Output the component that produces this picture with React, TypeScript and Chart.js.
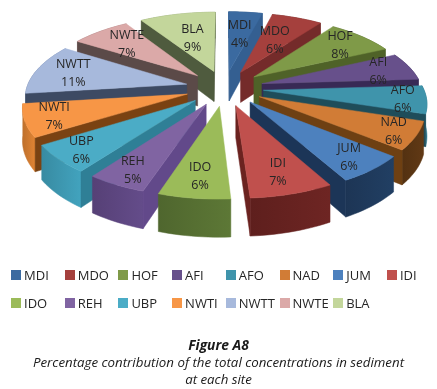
import React, { useEffect, useRef } from "react";
import { Chart, registerables } from "chart.js";

Chart.register(...registerables);

const siteLabels = ["MDI", "MDO", "HOF", "AFI", "AFO", "NAD", "JUM", "IDI", "IDO", "REH", "UBP", "NWTI", "NWTT", "NWTE", "BLA"];
const sitePercent = [4, 6, 8, 6, 6, 6, 6, 7, 6, 5, 6, 7, 11, 7, 9];

const topColors = ["#3b6aa0", "#a5403d", "#7f9a48", "#67508b", "#3f94ab", "#d17c36", "#4d81be", "#c0504d", "#9bbb59", "#8064a2", "#4bacc6", "#f79646", "#a7b9dc", "#dba9a8", "#c3d69b"];
const cutColors = ["#345f91", "#742b2a", "#4f6228", "#382a55", "#1f4d5a", "#6e4013", "#1c3557", "#6b2320", "#5a7334", "#62498a", "#2f7f96", "#7a4212", "#3d4a63", "#5b4a48", "#4f5b3e"];
const wallColors = ["#2c5080", "#6b2422", "#4f6228", "#382a55", "#2a6d80", "#5a3513", "#1f3a5c", "#662220", "#566f32", "#5d4680", "#3d97b0", "#cf7a30", "#6f82a8", "#9a6f6e", "#8b9c6c"];
const labelReach = [0.85, 0.82, 1.03, 1.03, 1.1, 1.11, 1.07, 1.02, 1.03, 1.08, 1.09, 1.07, 1.0, 0.95, 0.8];

const FONT = '"Open Sans", "Noto Sans", sans-serif';
const PERSPECTIVE = 0.15;
const TILT = 0.455;
const DEPTH = 31;

function shade(hex: string, f: number) {
  const n = parseInt(hex.slice(1), 16);
  const c = [(n >> 16) & 255, (n >> 8) & 255, n & 255].map((x) => Math.min(255, Math.round(x * f)));
  return `rgb(${c[0]},${c[1]},${c[2]})`;
}

const pie3d = {
  id: "pie3d",
  beforeDatasetsDraw(chart: any) {
    const ctx = chart.ctx;
    const arcs = chart.getDatasetMeta(0).data;
    const project = (arc: any, u: number, v: number, z: number) => {
      const s = 1 / (1 - PERSPECTIVE * v);
      return [arc.x + arc.outerRadius * u * s, arc.y + arc.outerRadius * TILT * v * s + z * s];
    };
    const poly = (pts: number[][], fill: any) => {
      ctx.beginPath();
      pts.forEach((p, i) => (i ? ctx.lineTo(p[0], p[1]) : ctx.moveTo(p[0], p[1])));
      ctx.closePath();
      ctx.fillStyle = fill;
      ctx.strokeStyle = fill;
      ctx.lineWidth = 0.5;
      ctx.fill();
      ctx.stroke();
    };
    const slices = arcs.map((arc: any, i: number) => {
      const a0 = arc.startAngle + Math.PI / 2;
      const a1 = arc.endAngle + Math.PI / 2;
      const mid = (a0 + a1) / 2;
      const e = arc.options.offset / arc.outerRadius;
      return { arc, i, a0, a1, mid, ox: e * Math.sin(mid), oy: -e * Math.cos(mid) };
    });
    slices.sort((p: any, q: any) => p.oy - q.oy);
    slices.forEach((sl: any) => {
      const { arc, i, a0, a1, ox, oy } = sl;
      const edge = (t: number) => [ox + Math.sin(t), oy - Math.cos(t)];
      const steps = Math.max(6, Math.ceil((a1 - a0) / 0.03));
      const rim: number[][] = [];
      for (let k = 0; k <= steps; k++) rim.push(edge(a0 + ((a1 - a0) * k) / steps));

      const rimTop = rim.map((p) => project(arc, p[0], p[1], 0));
      const rimBottom = rim.map((p) => project(arc, p[0], p[1], DEPTH));
      const xs = rimTop.map((p) => p[0]);
      const grad = ctx.createLinearGradient(Math.min(...xs), 0, Math.max(...xs), 0);
      grad.addColorStop(0, shade(wallColors[i], 0.92));
      grad.addColorStop(1, shade(wallColors[i], 1.08));
      poly([...rimTop, ...rimBottom.slice().reverse()], grad);

      const apexTop = project(arc, ox, oy, 0);
      const apexBottom = project(arc, ox, oy, DEPTH);
      const first = rim[0];
      const last = rim[rim.length - 1];
      const firstTop = rimTop[0];
      const lastTop = rimTop[rimTop.length - 1];
      if (firstTop[0] < apexTop[0]) poly([apexTop, firstTop, project(arc, first[0], first[1], DEPTH), apexBottom], cutColors[i]);
      if (lastTop[0] > apexTop[0]) poly([apexTop, lastTop, project(arc, last[0], last[1], DEPTH), apexBottom], cutColors[i]);

      poly([apexTop, ...rimTop], topColors[i]);
    });
    ctx.save();
    ctx.font = `12.5px ${FONT}`;
    ctx.fillStyle = "#262626";
    ctx.textAlign = "center";
    ctx.textBaseline = "middle";
    slices.forEach((sl: any) => {
      const { arc, i, mid } = sl;
      const r = labelReach[i];
      const p = project(arc, r * Math.sin(mid), -r * Math.cos(mid), 0);
      ctx.fillText(siteLabels[i], p[0], p[1] - 8);
      ctx.fillText(`${sitePercent[i]}%`, p[0], p[1] + 10);
    });
    ctx.restore();
    return false;
  },
};

export default function App() {
  const ref = useRef<HTMLCanvasElement>(null);
  useEffect(() => {
    const chart = new Chart(ref.current as HTMLCanvasElement, {
      type: "pie",
      data: {
        labels: siteLabels,
        datasets: [{ data: sitePercent, backgroundColor: topColors, borderWidth: 0, offset: 39, radius: 160 } as any],
      },
      options: {
        animation: false,
        responsive: false,
        layout: { padding: { left: 12, right: 0, top: 0, bottom: 213 } },
        plugins: { legend: { display: false }, tooltip: { enabled: false } },
      },
      plugins: [pie3d as any],
    });
    return () => chart.destroy();
  }, []);

  return (
    <div style={{ position: "absolute", left: 0, top: 0, width: 437, height: 389, background: "#fff", overflow: "hidden", fontFamily: FONT, color: "#262626" }}>
      <canvas ref={ref} width={437} height={389} style={{ position: "absolute", left: 0, top: 0, filter: "blur(0.5px)" }} />
      {siteLabels.map((s, i) => {
        const col = i % 8;
        const row = Math.floor(i / 8);
        return (
          <div key={s} style={{ position: "absolute", left: 11 + col * 53.7, top: 266 + row * 28, height: 18, display: "flex", alignItems: "center", fontSize: 13, lineHeight: "18px", whiteSpace: "nowrap" }}>
            <span style={{ display: "inline-block", width: 10, height: 10, background: topColors[i], marginRight: 3 }} />
            {s}
          </div>
        );
      })}
      <div style={{ position: "absolute", left: 0, width: 437, top: 336, textAlign: "center", fontStyle: "italic", fontSize: 13.3, lineHeight: "17.5px", color: "#1a1a1a" }}>
        <div style={{ fontWeight: 700, fontSize: 13.8 }}>Figure A8</div>
        <div>Percentage contribution of the total concentrations in sediment</div>
        <div>at each site</div>
      </div>
    </div>
  );
}
